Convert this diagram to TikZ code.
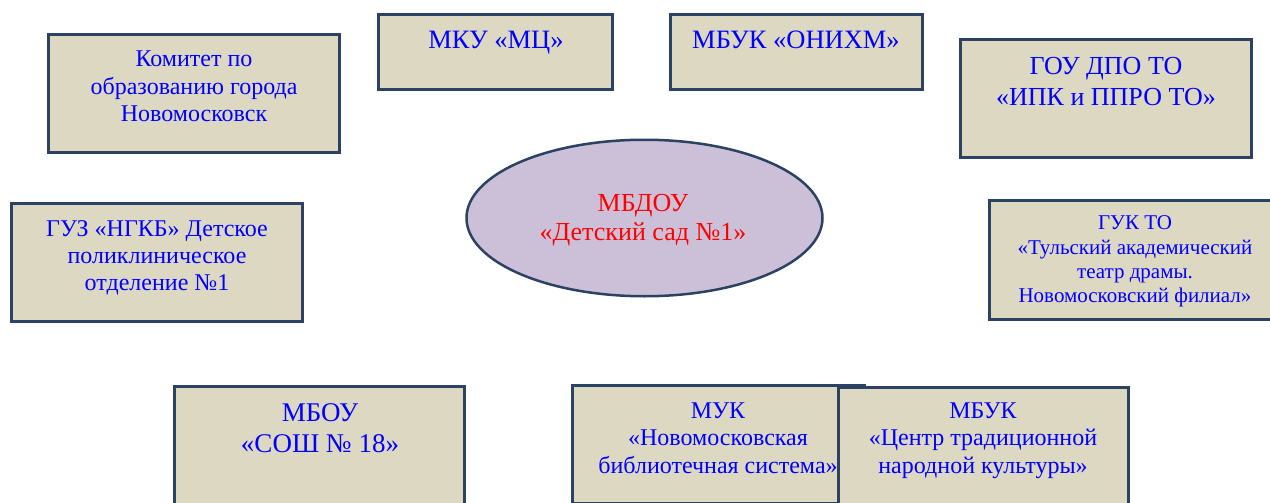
\documentclass[tikz,border=0pt]{standalone}
\usepackage{fontspec}
\setmainfont{Liberation Serif}
\usetikzlibrary{shapes.geometric}
\definecolor{boxc}{HTML}{DDD8C2}
\definecolor{bordc}{HTML}{2B4262}
\definecolor{ellc}{HTML}{CCC0D9}
\definecolor{txtblue}{HTML}{0000FF}
\definecolor{txtred}{HTML}{FF0000}
\tikzset{
  orgbox/.style={draw=bordc, line width=3pt, fill=boxc, rectangle, inner sep=0pt},
  orgtxt/.style={text=txtblue, align=center, inner sep=0pt, anchor=base},
  centre/.style={draw=bordc, line width=2.5pt, fill=ellc, ellipse, inner sep=0pt},
  centretxt/.style={text=txtred, align=center, inner sep=0pt, anchor=base},
}
\begin{document}
\begin{tikzpicture}[x=1pt,y=-1pt]
\useasboundingbox (0,0) rectangle (1270,503);
\clip (0,0) rectangle (1270,503);
% top-left
\node[orgbox, minimum width=291, minimum height=118] (kom) at (194,93.5) {};
\node[orgtxt, font=\fontsize{24}{27.5}\selectfont] (komt) at (194,121.7) {Комитет по\\образованию города\\Новомосковск};
% top
\node[orgbox, minimum width=234, minimum height=75] (mku) at (495.5,52) {};
\node[orgtxt, font=\fontsize{26.5}{30}\selectfont] (mkut) at (496,48.3) {МКУ «МЦ»};
\node[orgbox, minimum width=252, minimum height=75] (onihm) at (796.5,52) {};
\node[orgtxt, font=\fontsize{26.5}{30}\selectfont] (onihmt) at (796,48.3) {МБУК «ОНИХМ»};
% top-right
\node[orgbox, minimum width=291, minimum height=118] (gou) at (1106,98.5) {};
\node[orgtxt, font=\fontsize{26}{31}\selectfont] (gout) at (1106,106) {ГОУ ДПО ТО\\«ИПК и ППРО ТО»};
% middle-left
\node[orgbox, minimum width=291, minimum height=118] (guz) at (157,262.5) {};
\node[orgtxt, font=\fontsize{24}{26.7}\selectfont] (guzt) at (157,290) {ГУЗ «НГКБ» Детское\\поликлиническое\\отделение №1};
% centre
\node[centre, minimum width=356, minimum height=156.5] (dou) at (644.5,218) {};
\node[centretxt, font=\fontsize{26}{29}\selectfont] (dout) at (643,240) {МБДОУ\\«Детский сад №1»};
% middle-right
\node[orgbox, minimum width=291, minimum height=119] (guk) at (1135,260) {};
\node[orgtxt, font=\fontsize{21}{24.3}\selectfont] (gukt) at (1135,302.7) {ГУК ТО\\«Тульский академический\\театр драмы.\\Новомосковский филиал»};
% bottom
\node[orgbox, minimum width=290, minimum height=118] (mbou) at (319.5,445.5) {};
\node[orgtxt, font=\fontsize{27}{31}\selectfont] (mbout) at (320,452) {МБОУ\\«СОШ № 18»};
\node[orgbox, minimum width=292, minimum height=118] (muk) at (718.5,444.5) {};
\node[orgtxt, font=\fontsize{24}{27.5}\selectfont] (mukt) at (718,473) {МУК\\«Новомосковская\\библиотечная система»};
\node[orgbox, minimum width=290, minimum height=118] (mbuk) at (983.5,446.5) {};
\node[orgtxt, font=\fontsize{24}{27.5}\selectfont] (mbukt) at (983,473) {МБУК\\«Центр традиционной\\народной культуры»};
\end{tikzpicture}
\end{document}
